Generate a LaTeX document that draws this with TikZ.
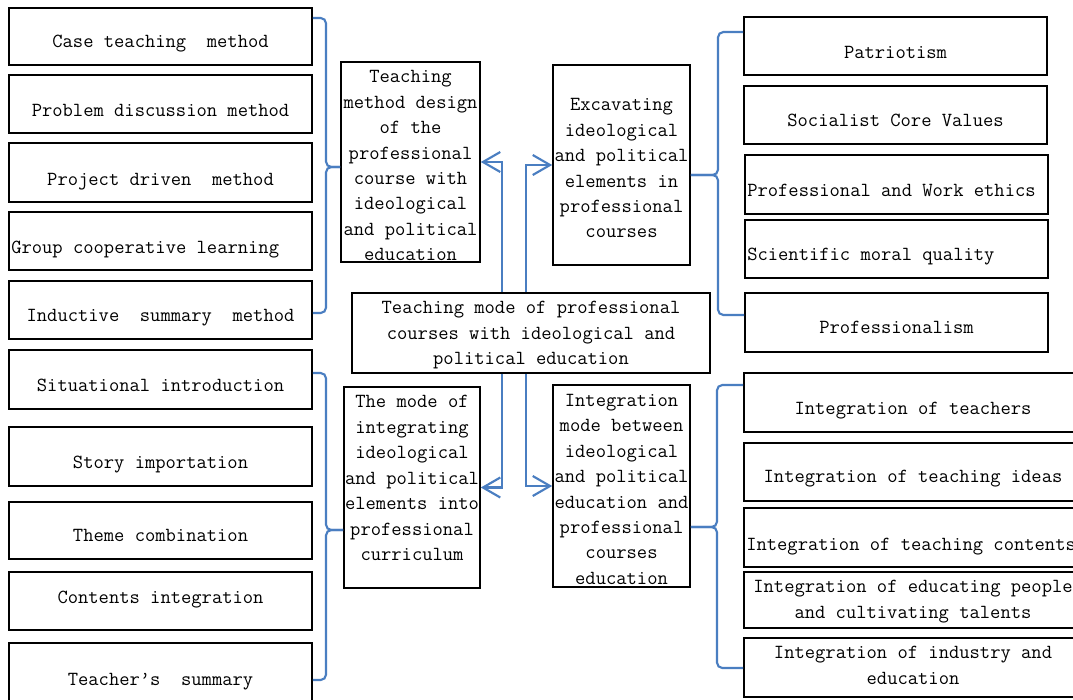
\documentclass[tikz,border=0pt]{standalone}
\usetikzlibrary{arrows.meta}
\definecolor{bl}{RGB}{74,126,193}
\tikzset{
 box/.style={draw=black, line width=1.2pt, inner sep=0pt},
 txt/.style={font=\ttfamily\fontsize{15}{19.1}\selectfont, inner sep=0pt, execute at begin node=\strut, execute at end node=\strut},
 brace/.style={draw=bl, line width=1.6pt, rounded corners=4pt},
 conn/.style={draw=bl, line width=1.6pt, -{Straight Barb[length=13pt,width=15pt]}},
}
\newcommand\cbox[7]{%
 \pgfmathsetlengthmacro\bw{(#4-#2)*0.75pt}%
 \pgfmathsetlengthmacro\bh{(#5-#3)*0.75pt}%
 \node[box, minimum width=\bw, minimum height=\bh] (#1) at ({(#2+#4)/2},{(#3+#5)/2}) {};
 \node[txt, align=center] (#1-t) at ({(#2+#4)/2},#6) {#7};}
\newcommand\lbox[7]{%
 \pgfmathsetlengthmacro\bw{(#4-#2)*0.75pt}%
 \pgfmathsetlengthmacro\bh{(#5-#3)*0.75pt}%
 \node[box, minimum width=\bw, minimum height=\bh] (#1) at ({(#2+#4)/2},{(#3+#5)/2}) {};
 \node[txt, anchor=west] (#1-t) at ({#2+2},#6) {#7};}
\begin{document}
\begin{tikzpicture}[x=0.75pt,y=-0.75pt]
\useasboundingbox (0,0) rectangle (1073,699);
\fill[white] (0,0) rectangle (1073,699);
\clip (0,0) rectangle (1073,699);
% left top group
\cbox{case}{9}{8}{312}{65}{42}{Case teaching\ \ method}
\cbox{prob}{9}{75}{312}{133}{111}{Problem discussion method}
\cbox{proj}{9}{143}{312}{202}{180}{Project driven\ \ method}
\lbox{group}{9}{212}{312}{270}{248}{Group cooperative learning}
\cbox{induct}{9}{281}{312}{339}{316}{Inductive\ \ summary\ \ method}
% left bottom group
\cbox{sit}{9}{350}{312}{409}{386}{Situational introduction}
\cbox{story}{9}{427}{312}{486}{463}{Story importation}
\cbox{theme}{9}{502}{312}{559}{536}{Theme combination}
\cbox{contents}{9}{572}{312}{630}{598}{Contents integration}
\cbox{teacher}{9}{643}{312}{705}{680}{Teacher’s\ \ summary}
% middle
\cbox{tm}{341}{62}{480}{262}{169.5}{Teaching\\method design\\of the\\professional\\course with\\ideological\\and political\\education}
\cbox{exc}{553}{65}{690}{265}{172}{Excavating\\ideological\\and political\\elements in\\professional\\courses}
\cbox{cm}{352}{293}{710}{373}{337}{Teaching mode of professional\\courses with ideological and\\political education}
\cbox{mode}{344}{387}{480}{588}{482}{The mode of\\integrating\\ideological\\and political\\elements into\\professional\\curriculum}
\cbox{integ}{553}{385}{690}{587}{493}{Integration\\mode between\\ideological\\and political\\education and\\professional\\courses\\education}
% right top group
\cbox{pat}{744}{17}{1047}{75}{53}{Patriotism}
\cbox{soc}{744}{86}{1047}{144}{121}{Socialist Core Values}
\lbox{prof}{745}{155}{1048}{214}{191}{Professional and Work ethics}
\lbox{sci}{745}{220}{1048}{278}{255}{Scientific moral quality}
\cbox{pism}{745}{293}{1048}{352}{328}{Professionalism}
% right bottom group
\cbox{it1}{744}{373}{1082}{432}{409}{Integration of teachers}
\cbox{it2}{744}{443}{1082}{501}{477}{Integration of teaching ideas}
\lbox{it3}{744}{508}{1082}{567}{545}{Integration of teaching contents}
\cbox{it4}{744}{572}{1082}{628}{603}{Integration of educating people\\and cultivating talents}
\cbox{it5}{744}{638}{1082}{697}{669}{Integration of industry and\\education}
% braces
\draw[brace] (case.east |- 0,18) -- (326,18) -- (326,167) -- (tm.west |- 0,167);
\draw[brace] (tm.west |- 0,167) -- (326,167) -- (326,313) -- (induct.east |- 0,313);
\draw[brace] (sit.east |- 0,373) -- (326,373) -- (326,530) -- (mode.west |- 0,530);
\draw[brace] (mode.west |- 0,530) -- (326,530) -- (326,680) -- (teacher.east |- 0,680);
\draw[brace] (pat.west |- 0,32) -- (718,32) -- (718,175) -- (exc.east |- 0,175);
\draw[brace] (exc.east |- 0,175) -- (718,175) -- (718,315) -- (pism.west |- 0,315);
\draw[brace] (it1.west |- 0,385) -- (717,385) -- (717,527) -- (integ.east |- 0,527);
\draw[brace] (integ.east |- 0,527) -- (717,527) -- (717,668) -- (it5.west |- 0,668);
% connectors
\draw[conn] (cm.north -| 502,0) |- (tm.east);
\draw[conn] (cm.north -| 526,0) |- (exc.west);
\draw[conn] (cm.south -| 502,0) |- (mode.east);
\draw[conn] (cm.south -| 526,0) |- (integ.west);
\end{tikzpicture}
\end{document}
